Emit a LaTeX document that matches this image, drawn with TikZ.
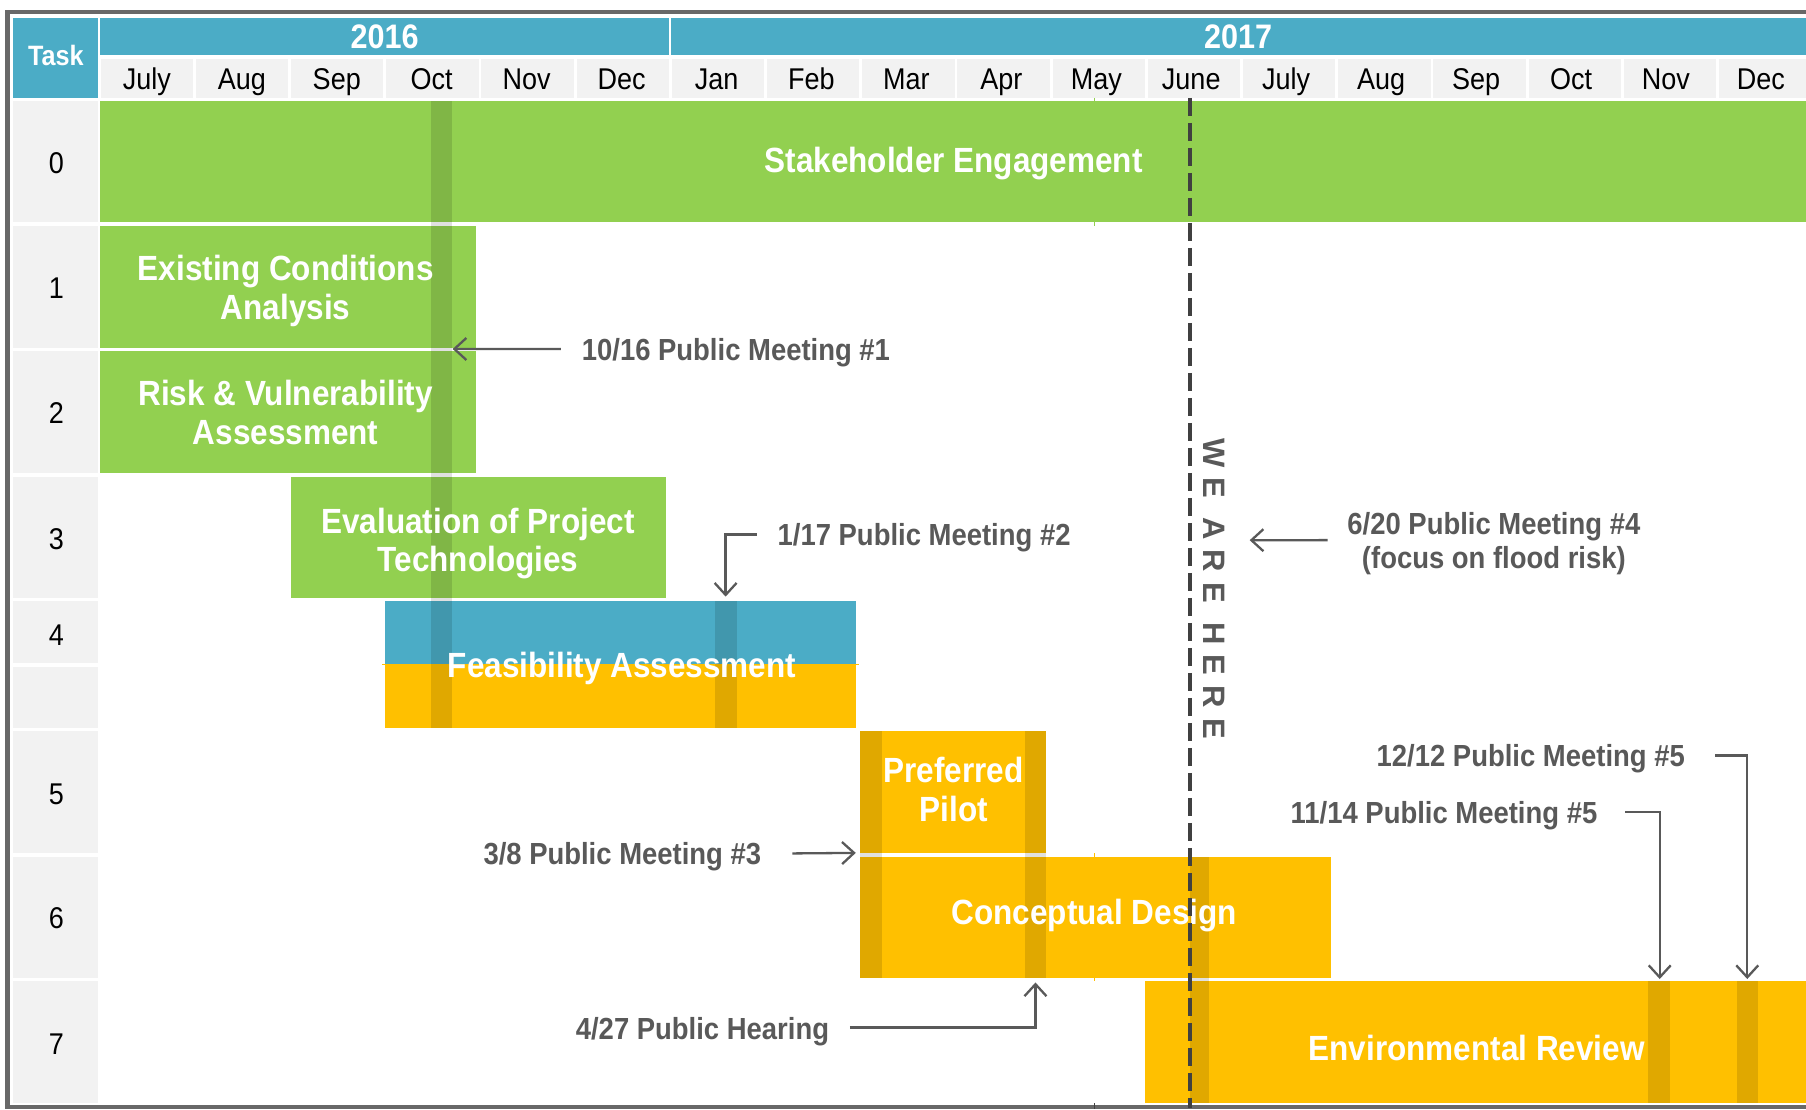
\documentclass[tikz,border=0pt]{standalone}
\usepackage{fontspec}
\setmainfont{Liberation Sans}
\newfontfamily\chartfont[FakeStretch=0.9]{Liberation Sans}
\newfontfamily\spacedfont[LetterSpace=33]{Liberation Sans}
\usetikzlibrary{arrows.meta}

\definecolor{hdrBlue}{HTML}{4BACC6}
\definecolor{barGreen}{HTML}{92D050}
\definecolor{barOrange}{HTML}{FFC000}
\definecolor{cellGray}{HTML}{F2F2F2}
\definecolor{frameGray}{HTML}{686868}
\definecolor{noteGray}{HTML}{595959}
\definecolor{dashGray}{HTML}{404040}

\tikzset{
  month/.style={font=\chartfont\fontsize{30}{32}\selectfont, text=black, inner sep=0pt, anchor=base},
  tasknum/.style={font=\chartfont\fontsize{30}{32}\selectfont, text=black, inner sep=0pt},
  hdrtext/.style={font=\chartfont\bfseries\fontsize{34}{36}\selectfont, text=white, inner sep=0pt},
  barlabel/.style={font=\chartfont\bfseries\fontsize{35}{38.5}\selectfont, text=white, align=center, inner sep=0pt},
  note/.style={font=\chartfont\bfseries\fontsize{30.5}{33.5}\selectfont, text=noteGray, align=center, inner sep=0pt},
  conn/.style={draw=noteGray, line width=2.3pt, -{Straight Barb[length=12pt,width=22pt]}},
  datemark/.style={fill=black, fill opacity=0.12},
}

\begin{document}
\begin{tikzpicture}[x=1.1518pt, y=-1.1518pt]
\useasboundingbox (0,0) rectangle (1568,963);
\fill[white] (0,0) rectangle (1568,963);

% outer frame
\fill[frameGray] (4.5,8.5) rectangle (1568,12.5);
\fill[frameGray] (4.5,8.5) rectangle (8.5,963);
\fill[frameGray] (4.5,959.5) rectangle (1568,963);

% header: task cell and years
\fill[hdrBlue] (11.5,15.5) rectangle (85,85);
\node[hdrtext, font=\chartfont\bfseries\fontsize{28}{30}\selectfont] (taskhdr) at (48.5,48) {Task};
\fill[hdrBlue] (87,15.5) rectangle (580.5,48);
\fill[hdrBlue] (583,15.5) rectangle (1568,48);
\node[hdrtext] (y2016) at (334,32) {2016};
\node[hdrtext] (y2017) at (1075,32) {2017};

% month cells
\foreach \m [count=\i from 0] in {July,Aug,Sep,Oct,Nov,Dec,Jan,Feb,Mar,Apr,May,June,July,Aug,Sep,Oct,Nov,Dec} {
  \pgfmathsetmacro\xa{86.2+82.65*\i+1.2}
  \pgfmathsetmacro\xb{86.2+82.65*(\i+1)-1.2}
  \pgfmathsetmacro\xc{86.2+82.65*(\i+0.5)-0.22*\i}
  \fill[cellGray] (\xa,51) rectangle (\xb,85);
  \node[month] (mon\i) at (\xc,77.5) {\m};
}

% task column cells
\foreach \ya/\yb in {88/193,196/302,305/411,414/519,522/576,579/632,635/741,744/849,852/958} {
  \fill[cellGray] (11.5,\ya) rectangle (85,\yb);
}
\node[tasknum] (row0) at (49,141.5) {0};
\node[tasknum] (row1) at (49,250.5) {1};
\node[tasknum] (row2) at (49,358.5) {2};
\node[tasknum] (row3) at (49,468.5) {3};
\node[tasknum] (row4) at (49,551.5) {4};
\node[tasknum] (row5) at (49,689.5) {5};
\node[tasknum] (row6) at (49,797.5) {6};
\node[tasknum] (row7) at (49,906.5) {7};

% small centre ticks
\draw[barGreen, line width=1.2pt] (950,85) -- (950,196);
\draw[barOrange, line width=1.2pt] (950,741) -- (950,852);
\draw[dashGray, line width=1.2pt] (950,958) -- (950,963);

% task bars
\fill[barGreen] (87,88) rectangle (1568,193);
\fill[barGreen] (87,196) rectangle (413,302);
\fill[barGreen] (87,305) rectangle (413,411);
\fill[barGreen] (253,414) rectangle (578,519);
\fill[hdrBlue] (334,522) rectangle (743,577);
\fill[barOrange] (334,577) rectangle (743,632);
\draw[barOrange, line width=1pt] (332,577) -- (746,577);
\fill[barOrange] (747,635) rectangle (908,741);
\fill[barOrange] (747,744) rectangle (1156,849);
\fill[barOrange] (994,852) rectangle (1568,958);

% meeting date markers
\fill[datemark] (374,88) rectangle (392,632);
\fill[datemark] (621,522) rectangle (640,632);
\fill[datemark] (747,635) rectangle (766,849);
\fill[datemark] (890,635) rectangle (908,849);
\fill[datemark] (1033,744) rectangle (1050,958);
\fill[datemark] (1431,852) rectangle (1450,958);
\fill[datemark] (1508,852) rectangle (1526,958);

% bar labels
\node[barlabel] (t0) at (828,142) {Stakeholder Engagement};
\node[barlabel] (t1) at (248,252.5) {Existing Conditions\\Analysis};
\node[barlabel] (t2) at (248,358) {Risk \& Vulnerability\\Assessment};
\node[barlabel] (t3) at (415,472) {Evaluation of Project\\Technologies};
\node[barlabel] (t4) at (540,580.5) {Feasibility Assessment};
\node[barlabel] (t5) at (828,685.5) {Preferred\\Pilot};
\node[barlabel] (t6) at (950,795) {Conceptual Design};
\node[barlabel] (t7) at (1282,909.5) {Environmental Review};

% current date line
\coordinate (nowtop) at (1033,85);
\coordinate (nowbot) at (1033,962);
\draw[dashGray, line width=4pt, dash pattern=on 18pt off 7pt] (nowtop) -- (nowbot);
\node[rotate=-90, font=\spacedfont\bfseries\fontsize{31}{31}\selectfont, text=noteGray, inner sep=0pt] (here) at (1054,511) {WE ARE HERE};

% meeting notes and their pointers
\coordinate (p1) at (393,303);
\coordinate (p2) at (630,518);
\coordinate (p3) at (743,740.5);
\coordinate (p4) at (1085,469);
\coordinate (p5a) at (1517,850);
\coordinate (p5b) at (1441,850);
\coordinate (p6) at (899,853);

\node[note, anchor=west] (m1) at (505,306) {10/16 Public Meeting \#1};
\node[note, anchor=west] (m2) at (675,467) {1/17 Public Meeting \#2};
\node[note, anchor=east] (m3) at (661,744) {3/8 Public Meeting \#3};
\node[note] (m4) at (1297,472) {6/20 Public Meeting \#4\\(focus on flood risk)};
\node[note, anchor=east] (m5a) at (1463,659) {12/12 Public Meeting \#5};
\node[note, anchor=east] (m5b) at (1387,708) {11/14 Public Meeting \#5};
\node[note, anchor=east] (m6) at (720,895.5) {4/27 Public Hearing};

\draw[conn] ([xshift=-20.7pt,yshift=3.5pt]m1.west) -- (p1);
\draw[conn] ([xshift=-20.7pt,yshift=3.5pt]m2.west) -| (p2);
\draw[conn] ([xshift=31pt,yshift=3.5pt]m3.east) -- (p3);
\draw[conn] ([xshift=-19.5pt,yshift=3.5pt]m4.west) -- (p4);
\draw[conn] ([xshift=30pt,yshift=3.5pt]m5a.east) -| (p5a);
\draw[conn] ([xshift=27.6pt,yshift=3.5pt]m5b.east) -| (p5b);
\draw[conn] ([xshift=20.7pt,yshift=4pt]m6.east) -| (p6);
\end{tikzpicture}
\end{document}
